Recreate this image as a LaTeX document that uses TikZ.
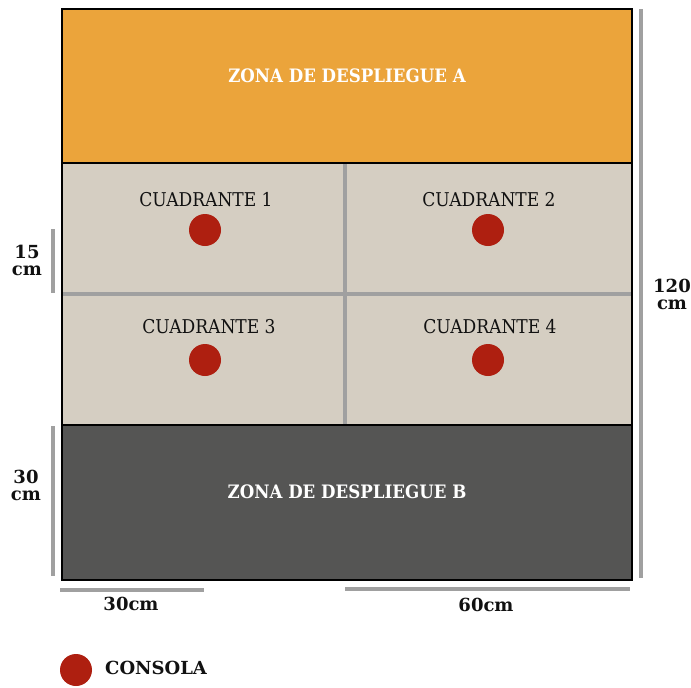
\documentclass[tikz,border=0pt]{standalone}
\usepackage{fontspec}
\setmainfont{DejaVu Serif}
\newfontfamily\slabc{DejaVu Serif Condensed}
\definecolor{zoneA}{HTML}{EBA43B}
\definecolor{quad}{HTML}{D5CEC2}
\definecolor{zoneB}{HTML}{555554}
\definecolor{divgray}{HTML}{A0A0A0}
\definecolor{consred}{HTML}{AE1F10}
\definecolor{inkblack}{HTML}{111111}
\tikzset{
  divider/.style={draw=divgray, line width=4pt},
  dimbar/.style={draw=divgray, line width=4pt},
  zonelabel/.style={font=\slabc\bfseries\fontsize{18.5}{20}\selectfont, text=white, inner sep=0pt},
  quadlabel/.style={font=\slabc\fontsize{19}{20}\selectfont, text=inkblack, inner sep=0pt},
  dimlabel/.style={font=\bfseries\fontsize{18}{17}\selectfont, text=inkblack, align=center, inner sep=0pt},
  console/.style={circle, fill=consred, minimum size=32pt, inner sep=0pt}
}
\begin{document}
\begin{tikzpicture}[x=1pt,y=-1pt]
\useasboundingbox (0,0) rectangle (691,688);
\fill[white] (0,0) rectangle (691,688);
% bands
\fill[zoneA] (62,9) rectangle (632,163);
\fill[quad] (62,163) rectangle (632,425);
\fill[zoneB] (62,425) rectangle (632,580);
% dividers
\draw[divider] (345,163) -- (345,425);
\draw[divider] (62,294) -- (632,294);
% borders
\draw[line width=2.5pt] (62,163) -- (632,163);
\draw[line width=2.5pt] (62,425) -- (632,425);
\draw[line width=2pt] (62,9) rectangle (632,580);
% zone labels
\node[zonelabel] (za) at (347,76) {ZONA DE DESPLIEGUE A};
\node[zonelabel] (zb) at (347,492) {ZONA DE DESPLIEGUE B};
% quadrant labels and consoles
\node[quadlabel] (q1) at (206,200) {CUADRANTE 1};
\node[quadlabel] (q2) at (489,200) {CUADRANTE 2};
\node[quadlabel] (q3) at (209,327) {CUADRANTE 3};
\node[quadlabel] (q4) at (490,327) {CUADRANTE 4};
\node[console] (c1) at (205,230) {};
\node[console] (c2) at (488,230) {};
\node[console] (c3) at (205,360) {};
\node[console] (c4) at (488,360) {};
% dimension bars
\draw[dimbar] (53,229) -- (53,293);
\draw[dimbar] (53,426) -- (53,576);
\draw[dimbar] (641,9) -- (641,578);
\draw[dimbar] (60,590) -- (204,590);
\draw[dimbar] (345,589) -- (630,589);
% dimension labels
\node[dimlabel] (d15) at (27,260) {15\\cm};
\node[dimlabel] (d30) at (26,485) {30\\cm};
\node[dimlabel] (d120) at (672,294) {120\\cm};
\node[dimlabel] (d30b) at (131,604) {30cm};
\node[dimlabel] (d60) at (486,605) {60cm};
% legend
\node[console] (lg) at (76,670) {};
\node[dimlabel, anchor=west] (lgt) at (105,668) {CONSOLA};
\end{tikzpicture}
\end{document}
